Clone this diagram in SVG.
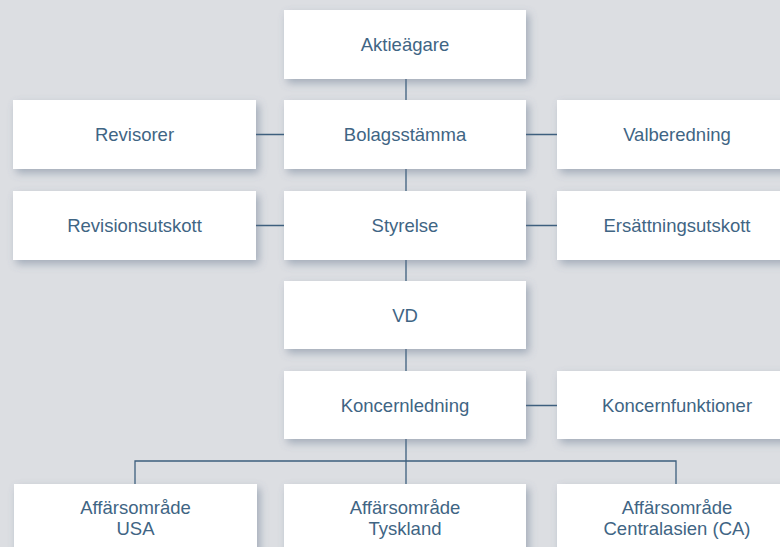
<svg xmlns="http://www.w3.org/2000/svg" width="780" height="547" viewBox="0 0 780 547">
<defs>
<filter id="sh" x="-10%" y="-20%" width="130%" height="150%">
<feDropShadow dx="3" dy="4" stdDeviation="4" flood-color="#5a7088" flood-opacity="0.45"/>
</filter>
<style>
.box{fill:#ffffff;filter:url(#sh)}
.t{font-family:"Liberation Sans",Arial,sans-serif;font-size:18.5px;fill:#3f6584;text-anchor:middle}
.c{stroke:#3d5f7e;stroke-width:1.3;fill:none}
</style>
</defs>
<rect width="780" height="547" fill="#dcdee2"/>
<g id="connectors">
<path class="c" d="M406 79V100M406 169V191M406 260V281M406 349V371M406 439V484"/>
<path class="c" d="M256 134.5H284M526 134.5H557M256 225.5H284M526 225.5H557M526 405.5H557"/>
<path class="c" d="M135 484V461H676V484"/>
</g>
<g id="aktieagare"><rect class="box" x="284" y="10" width="242" height="69"/><text class="t" x="405" y="51">Aktieägare</text></g>
<g id="revisorer"><rect class="box" x="13" y="100" width="243" height="69"/><text class="t" x="134.5" y="141">Revisorer</text></g>
<g id="bolagsstamma"><rect class="box" x="284" y="100" width="242" height="69"/><text class="t" x="405" y="141">Bolagsstämma</text></g>
<g id="valberedning"><rect class="box" x="557" y="100" width="243" height="69"/><text class="t" x="677" y="141">Valberedning</text></g>
<g id="revisionsutskott"><rect class="box" x="13" y="191" width="243" height="69"/><text class="t" x="134.5" y="232">Revisionsutskott</text></g>
<g id="styrelse"><rect class="box" x="284" y="191" width="242" height="69"/><text class="t" x="405" y="232">Styrelse</text></g>
<g id="ersattningsutskott"><rect class="box" x="557" y="191" width="243" height="69"/><text class="t" x="677" y="232">Ersättningsutskott</text></g>
<g id="vd"><rect class="box" x="284" y="281" width="242" height="68"/><text class="t" x="405" y="322">VD</text></g>
<g id="koncernledning"><rect class="box" x="284" y="371" width="242" height="68"/><text class="t" x="405" y="412">Koncernledning</text></g>
<g id="koncernfunktioner"><rect class="box" x="557" y="371" width="243" height="68"/><text class="t" x="677" y="412">Koncernfunktioner</text></g>
<g id="usa"><rect class="box" x="14" y="484" width="243" height="80"/><text class="t" x="135.5" y="514">Affärsområde</text><text class="t" x="135.5" y="535">USA</text></g>
<g id="tyskland"><rect class="box" x="284" y="484" width="242" height="80"/><text class="t" x="405" y="514">Affärsområde</text><text class="t" x="405" y="535">Tyskland</text></g>
<g id="ca"><rect class="box" x="557" y="484" width="243" height="80"/><text class="t" x="677" y="514">Affärsområde</text><text class="t" x="677" y="535">Centralasien (CA)</text></g>
</svg>
